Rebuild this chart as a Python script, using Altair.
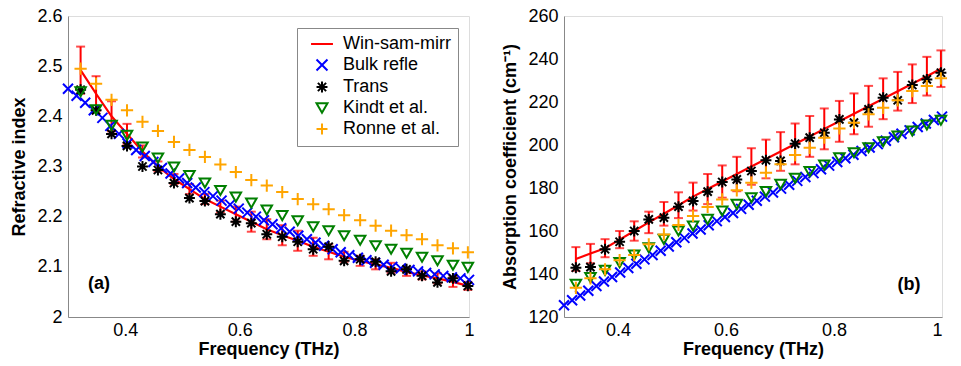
import altair as alt
import pandas as pd

# ---------------- data ----------------
series = ["Win-sam-mirr", "Bulk refle", "Trans", "Kindt et al.", "Ronne et al."]
colors = ["#ff0000", "#0000ff", "#000000", "#007f00", "#ffa500"]

freq = [0.322, 0.349, 0.376, 0.403, 0.430, 0.457, 0.485, 0.512, 0.539, 0.566,
        0.593, 0.620, 0.647, 0.674, 0.701, 0.728, 0.755, 0.782, 0.810, 0.837,
        0.864, 0.891, 0.918, 0.945, 0.972, 0.998]

freq_bulk = [0.300, 0.315, 0.330, 0.345, 0.360, 0.374, 0.389, 0.404, 0.419, 0.434,
             0.449, 0.464, 0.479, 0.494, 0.508, 0.523, 0.538, 0.553, 0.568, 0.583,
             0.598, 0.613, 0.628, 0.642, 0.657, 0.672, 0.687, 0.702, 0.717, 0.732,
             0.747, 0.762, 0.776, 0.791, 0.806, 0.821, 0.836, 0.851, 0.866, 0.881,
             0.896, 0.911, 0.925, 0.940, 0.955, 0.970, 0.985, 1.000]

x_ticks = [0.4, 0.6, 0.8, 1.0]

# (a) refractive index
n_ticks = [2.0, 2.1, 2.2, 2.3, 2.4, 2.5, 2.6]
n_win = [2.492, 2.445, 2.400, 2.365, 2.330, 2.300, 2.275, 2.255, 2.235, 2.220,
         2.205, 2.190, 2.175, 2.163, 2.152, 2.140, 2.130, 2.120, 2.112, 2.105,
         2.098, 2.090, 2.083, 2.077, 2.070, 2.062]
n_win_err = [0.047, 0.035, 0.030, 0.020, 0.012, 0.010, 0.010, 0.010, 0.010, 0.012,
             0.015, 0.020, 0.020, 0.020, 0.020, 0.018, 0.015, 0.010, 0.010, 0.010,
             0.010, 0.008, 0.008, 0.010, 0.010, 0.008]
n_bulk = [2.455, 2.441, 2.427, 2.412, 2.397, 2.381, 2.365, 2.346, 2.333, 2.321,
          2.309, 2.297, 2.286, 2.276, 2.267, 2.258, 2.249, 2.241, 2.232, 2.224,
          2.216, 2.208, 2.200, 2.193, 2.185, 2.177, 2.170, 2.162, 2.155, 2.148,
          2.142, 2.135, 2.129, 2.123, 2.118, 2.113, 2.108, 2.104, 2.100, 2.097,
          2.094, 2.091, 2.088, 2.085, 2.082, 2.079, 2.077, 2.074]
n_trans = [2.453, 2.412, 2.365, 2.341, 2.300, 2.293, 2.267, 2.237, 2.231, 2.205,
           2.190, 2.187, 2.165, 2.160, 2.150, 2.135, 2.140, 2.112, 2.115, 2.110,
           2.091, 2.095, 2.082, 2.069, 2.077, 2.062]
n_kindt = [2.449, 2.413, 2.382, 2.362, 2.339, 2.317, 2.299, 2.282, 2.267, 2.252,
           2.239, 2.227, 2.213, 2.202, 2.192, 2.180, 2.172, 2.162, 2.153, 2.142,
           2.135, 2.127, 2.119, 2.112, 2.103, 2.099]
n_ronne = [2.495, 2.465, 2.433, 2.412, 2.389, 2.371, 2.349, 2.333, 2.319, 2.304,
           2.289, 2.273, 2.262, 2.249, 2.235, 2.225, 2.215, 2.203, 2.193, 2.182,
           2.172, 2.163, 2.155, 2.143, 2.137, 2.129]

# (b) absorption coefficient
a_ticks = [120, 140, 160, 180, 200, 220, 240, 260]
a_win = [147.0, 149.5, 152.0, 156.0, 160.0, 164.0, 168.0, 172.0, 176.0, 179.5,
         183.0, 186.5, 190.0, 193.5, 197.0, 200.5, 204.0, 207.5, 211.0, 214.5,
         218.0, 221.5, 225.0, 228.5, 232.0, 235.5]
a_win_err = [5.5, 4.5, 4.2, 4.0, 4.5, 5.0, 5.5, 6.0, 6.5, 7.0,
             7.5, 8.0, 8.5, 9.0, 9.0, 9.5, 9.5, 9.5, 9.5, 9.5,
             9.5, 9.5, 9.0, 9.0, 9.0, 8.5]
a_bulk = [125.5, 127.8, 130.0, 132.2, 134.4, 136.5, 138.6, 140.7, 142.8, 144.8,
          146.8, 148.8, 150.8, 152.8, 154.8, 156.8, 158.8, 160.7, 162.7, 164.6,
          166.5, 168.4, 170.3, 172.2, 174.1, 176.0, 177.9, 179.7, 181.5, 183.3,
          185.1, 186.9, 188.7, 190.4, 192.1, 193.8, 195.5, 197.2, 198.8, 200.4,
          202.0, 203.6, 205.2, 206.8, 208.4, 210.0, 211.6, 213.2]
a_trans = [142.9, 143.2, 151.5, 155.0, 160.0, 165.4, 166.2, 171.3, 174.0, 178.3,
           182.8, 184.0, 187.9, 192.9, 192.6, 200.6, 203.4, 205.7, 211.9, 210.4,
           216.6, 222.0, 220.8, 227.9, 230.5, 233.6]
a_kindt = [135.2, 138.3, 141.7, 145.3, 148.8, 152.2, 156.1, 160.0, 162.3, 165.4,
           169.3, 172.4, 175.5, 178.3, 181.7, 184.5, 187.6, 190.7, 194.1, 196.4,
           198.7, 201.5, 204.2, 206.5, 209.3, 211.5]
a_ronne = [133.6, 138.0, 142.2, 146.4, 148.8, 153.8, 158.4, 162.8, 167.0, 171.2,
           174.7, 178.9, 182.5, 187.1, 191.0, 195.3, 198.7, 203.4, 207.7, 210.4,
           214.3, 217.3, 220.8, 225.1, 227.4, 231.0]

# ---------------- style ----------------
FONT = "Liberation Sans"
P_LINE = "M-2,0L2,0"
P_X = "M-1,-1L1,1M-1,1L1,-1"
P_AST = "M-1,0L1,0M0,-1L0,1M-0.75,-0.75L0.75,0.75M-0.75,0.75L0.75,-0.75"
P_PLUS = "M-1,0L1,0M0,-1L0,1"
shapes = [P_LINE, P_X, P_AST, "triangle-down", P_PLUS]
sizes = {"Bulk refle": 100, "Trans": 120, "Kindt et al.": 110, "Ronne et al.": 150}

AX = dict(grid=False, ticks=False, tickSize=0,
          labelFont=FONT, labelFontSize=18, labelColor="black",
          titleFont=FONT, titleFontSize=18, titleFontWeight="bold", titleColor="black",
          domainColor="#888888")


def panel(yv, yerr, bulk, trans, kindt, ronne, ydom, yticks, ytitle,
          tag, tagx, tagy, show_legend, w, flush):
    win_df = pd.DataFrame({"f": freq, "v": yv,
                           "lo": [a - b for a, b in zip(yv, yerr)],
                           "hi": [a + b for a, b in zip(yv, yerr)]})
    xs = alt.Scale(domain=[0.3, 1.0], nice=False, zero=False)
    ys = alt.Scale(domain=ydom, nice=False, zero=False)
    xenc = alt.X("f:Q", scale=xs,
                 axis=alt.Axis(title="Frequency (THz)", values=x_ticks,
                               labelPadding=4, titlePadding=1, labelFlush=flush,
                               labelExpr="datum.value == 1 ? '1' : format(datum.value, '.1f')",
                               **AX))
    yenc = alt.Y("v:Q", scale=ys,
                 axis=alt.Axis(title=ytitle, values=yticks, labelPadding=6,
                               titlePadding=8, labelFlush=False,
                               labelExpr="format(datum.value, '~r')", **AX))

    base = alt.Chart(win_df)
    line = base.mark_line(color="#ff0000", strokeWidth=2.2).encode(x=xenc, y=yenc)
    rule = base.mark_rule(color="#ff0000", strokeWidth=2).encode(
        x="f:Q", y=alt.Y("lo:Q", scale=ys), y2="hi:Q")
    cap_hi = base.mark_tick(color="#ff0000", orient="horizontal", size=9,
                            thickness=2).encode(x="f:Q", y=alt.Y("hi:Q", scale=ys))
    cap_lo = base.mark_tick(color="#ff0000", orient="horizontal", size=9,
                            thickness=2).encode(x="f:Q", y=alt.Y("lo:Q", scale=ys))

    legend = alt.Legend(title=None, orient="none", legendX=229, legendY=12,
                        fillColor="white", strokeColor="#888888", padding=7,
                        labelFont=FONT, labelFontSize=18, labelColor="black",
                        symbolSize=120, symbolStrokeWidth=2, rowPadding=2,
                        labelOffset=12, symbolOffset=9, labelLimit=300,
                        symbolType="circle") if show_legend else None

    layers = [line, rule, cap_hi, cap_lo]
    for name, xs_, vals in [("Bulk refle", freq_bulk, bulk), ("Trans", freq, trans),
                            ("Kindt et al.", freq, kindt), ("Ronne et al.", freq, ronne)]:
        df = pd.DataFrame({"f": xs_, "v": vals, "s": name})
        layers.append(
            alt.Chart(df).mark_point(filled=False, strokeWidth=2, size=sizes[name],
                                     opacity=1).encode(
                x="f:Q", y=alt.Y("v:Q", scale=ys),
                color=alt.Color("s:N", scale=alt.Scale(domain=series, range=colors),
                                legend=legend),
                shape=alt.Shape("s:N", scale=alt.Scale(domain=series, range=shapes),
                                legend=legend),
            ))
    tag_df = pd.DataFrame({"f": [tagx], "v": [tagy], "t": [tag]})
    layers.append(alt.Chart(tag_df).mark_text(font=FONT, fontSize=18, fontWeight="bold",
                                              color="black").encode(
        x="f:Q", y=alt.Y("v:Q", scale=ys), text="t:N"))
    return alt.layer(*layers).properties(width=w, height=301)


pa = panel(n_win, n_win_err, n_bulk, n_trans, n_kindt, n_ronne,
           [2.0, 2.6], n_ticks, "Refractive index",
           "(a)", 0.354, 2.066, True, 401, False)
pb = panel(a_win, a_win_err, a_bulk, a_trans, a_kindt, a_ronne,
           [120, 260], a_ticks,
           "Absorption coefficient (cm\u207b\u00b9)",
           "(b)", 0.939, 134.9, False, 378, True)

chart = alt.hconcat(pa, pb, spacing=22).resolve_scale(
    color="independent", shape="independent").resolve_legend(
    color="independent", shape="independent").properties(
    padding={"left": 2, "top": -2, "right": 0, "bottom": 0}
).configure_view(stroke="#888888", strokeWidth=1).configure(background="white")

chart.save("out.html", embed_options={"renderer": "svg", "actions": False})
